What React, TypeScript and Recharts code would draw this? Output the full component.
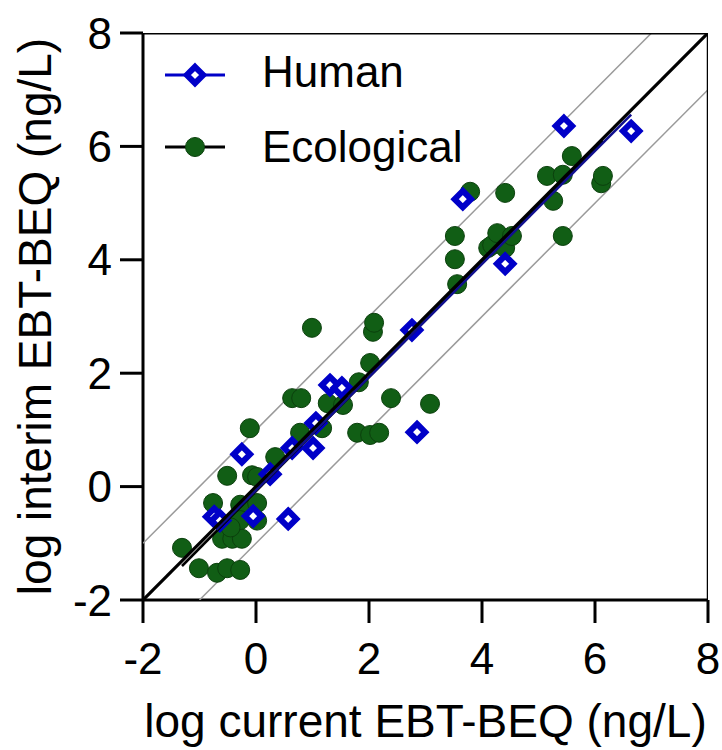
import { ScatterChart, Scatter, XAxis, YAxis, Legend, Label } from "recharts";

const FONT = "'Liberation Sans', Arial, sans-serif";
const GREEN = "#115e15";
const BLUE = "#0000c8";

const axisTicks = [-2, 0, 2, 4, 6, 8];

// log current (x) vs log interim (y) EBT-BEQ, ng/L
const humanX = [-0.25, 0.25, -0.74, -0.64, -0.05, 0.57, 0.64, 1.01, 1.06, 1.31, 1.52, 2.76, 2.85, 3.66, 4.41, 5.45, 6.64];
const humanY = [0.57, 0.22, -0.53, -0.6, -0.52, -0.57, 0.68, 0.68, 1.12, 1.79, 1.74, 2.76, 0.96, 5.07, 3.93, 6.36, 6.27];

const ecoX = [
  -1.31, -1.01, -0.69, -0.51, -0.28,
  -0.6, -0.42, -0.25,
  -0.76, -0.28, 0.02, -0.28, 0.02, -0.45,
  -0.51, -0.07, 0.02, 0.34, -0.11,
  0.64, 0.8, 0.78, 1.17, 1.27, 1.54,
  0.99, 1.79, 2.02, 2.18, 1.82, 2.02, 2.07, 2.09,
  2.39, 3.08,
  3.56, 3.52, 3.52, 3.79, 4.11, 4.18, 4.27, 4.41, 4.53, 4.41,
  5.15, 5.26, 5.43, 5.43, 5.59, 6.11, 6.14,
];
const ecoY = [
  -1.08, -1.44, -1.52, -1.44, -1.47,
  -0.92, -0.92, -0.92,
  -0.29, -0.32, -0.29, -0.59, -0.6, -0.72,
  0.19, 0.2, 0.17, 0.52, 1.03,
  1.56, 1.56, 0.95, 1.03, 1.47, 1.44,
  2.8, 0.95, 0.91, 0.95, 1.84, 2.18, 2.73, 2.89,
  1.56, 1.46,
  3.57, 4.01, 4.42, 5.2, 4.21, 4.26, 4.47, 4.21, 4.42, 5.18,
  5.48, 5.04, 5.5, 4.42, 5.83, 5.35, 5.48,
];

// reference lines: 1:1 and +/- 1 log unit
const identityLine = [{ x: -2, y: -2 }, { x: 8, y: 8 }];
const upperLine = [{ x: -2, y: -1 }, { x: 7, y: 8 }];
const lowerLine = [{ x: -1, y: -2 }, { x: 8, y: 7 }];
// fitted lines
const ecoFit = [{ x: -1.31, y: -1.4 }, { x: 6.14, y: 6.1 }];
const humanFit = [{ x: -0.7, y: -0.76 }, { x: 6.64, y: 6.56 }];
// plot frame (top and right edges)
const frameTop = [{ x: -2, y: 8 }, { x: 8, y: 8 }];
const frameRight = [{ x: 8, y: -2 }, { x: 8, y: 8 }];

const human = humanX.map((x, i) => ({ x, y: humanY[i] }));
const eco = ecoX.map((x, i) => ({ x, y: ecoY[i] }));

const NoDot = () => <g />;

const Diamond = (props: any) => {
  const { cx, cy } = props;
  const r = 8.2;
  return (
    <path
      d={`M${cx},${cy - r}L${cx + r},${cy}L${cx},${cy + r}L${cx - r},${cy}Z`}
      fill="#fff"
      stroke={BLUE}
      strokeWidth={6}
    />
  );
};

const Dot = (props: any) => (
  <circle cx={props.cx} cy={props.cy} r={9.5} fill={GREEN} stroke="#0b400d" strokeWidth={1} />
);

const LegendBox = () => (
  <svg width={340} height={150} style={{ display: "block" }}>
    <line x1={15} y1={45} x2={75} y2={45} stroke={BLUE} strokeWidth={3} />
    <path d="M45,36.8L53.2,45L45,53.2L36.8,45Z" fill="#fff" stroke={BLUE} strokeWidth={6} />
    <text x={112} y={57} fontSize={44} fontFamily={FONT} fill="#000">Human</text>
    <line x1={15} y1={117} x2={75} y2={117} stroke="#000" strokeWidth={3} />
    <circle cx={45} cy={117} r={9.5} fill={GREEN} stroke="#0b400d" strokeWidth={1} />
    <text x={112} y={132} fontSize={44} fontFamily={FONT} fill="#000">Ecological</text>
  </svg>
);

const lineSeries = (data: { x: number; y: number }[], stroke: string, width: number, key: string) => (
  <Scatter
    key={key}
    data={data}
    line={{ stroke, strokeWidth: width }}
    stroke={stroke}
    strokeWidth={width}
    shape={NoDot}
    legendType="none"
    isAnimationActive={false}
  />
);

export default function App() {
  return (
    <div style={{ position: "absolute", left: 0, top: 0, background: "#fff" }}>
      <ScatterChart width={722} height={750} margin={{ top: 33, right: 14, bottom: 0, left: 0 }}>
        <XAxis
          type="number"
          dataKey="x"
          domain={[-2, 8]}
          ticks={axisTicks}
          allowDataOverflow
          height={150}
          tickSize={23}
          tickMargin={20}
          tick={{ fill: "#000", fontSize: 44, fontFamily: FONT }}
          axisLine={{ stroke: "#000", strokeWidth: 3 }}
          tickLine={{ stroke: "#000", strokeWidth: 3 }}
        >
          <Label
            content={(p: any) => (
              <text
                x={p.viewBox.x + p.viewBox.width / 2}
                y={737}
                textAnchor="middle"
                fontSize={46}
                fontFamily={FONT}
                fill="#000"
              >
                log current EBT-BEQ (ng/L)
              </text>
            )}
          />
        </XAxis>
        <YAxis
          type="number"
          dataKey="y"
          domain={[-2, 8]}
          ticks={axisTicks}
          allowDataOverflow
          width={143}
          tickSize={23}
          tickMargin={8}
          tick={{ fill: "#000", fontSize: 44, fontFamily: FONT }}
          axisLine={{ stroke: "#000", strokeWidth: 3 }}
          tickLine={{ stroke: "#000", strokeWidth: 3 }}
        >
          <Label
            content={(p: any) => {
              const cy = p.viewBox.y + p.viewBox.height / 2;
              return (
                <text
                  transform={`translate(51,${cy}) rotate(-90)`}
                  textAnchor="middle"
                  fontSize={46}
                  fontFamily={FONT}
                  fill="#000"
                >
                  log interim EBT-BEQ (ng/L)
                </text>
              );
            }}
          />
        </YAxis>
        <Legend
          layout="horizontal"
          verticalAlign="middle"
          align="center"
          wrapperStyle={{ top: 30, left: 150, width: 340, height: 150 }}
          content={() => <LegendBox />}
        />
        {lineSeries(upperLine, "#9a9a9a", 1.5, "up")}
        {lineSeries(lowerLine, "#9a9a9a", 1.5, "low")}
        <Scatter data={eco} shape={Dot} isAnimationActive={false} />
        <Scatter data={human} shape={Diamond} isAnimationActive={false} />
        {lineSeries(ecoFit, "#000", 2.6, "ecofit")}
        {lineSeries(humanFit, "#10108f", 2.6, "humfit")}
        {lineSeries(identityLine, "#000", 3.2, "id")}
        {lineSeries(frameTop, "#000", 3, "ft")}
        {lineSeries(frameRight, "#000", 2.5, "fr")}
      </ScatterChart>
    </div>
  );
}
